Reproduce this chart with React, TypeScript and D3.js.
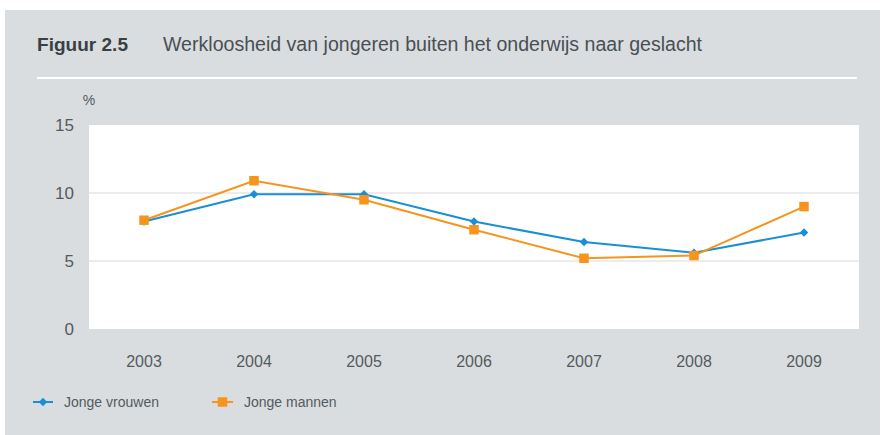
import React from 'react';
import * as d3 from 'd3';

const years = ['2003', '2004', '2005', '2006', '2007', '2008', '2009'];
const vrouwen = [7.9, 9.9, 9.9, 7.9, 6.4, 5.6, 7.1];
const mannen = [8.0, 10.9, 9.5, 7.3, 5.2, 5.4, 9.0];
const yTicks = [0, 5, 10, 15];
const seriesNames = ['Jonge vrouwen', 'Jonge mannen'];

const W = 885;
const H = 435;
const blue = '#1a8fd3';
const orange = '#f7941d';
const textColor = '#555a5e';
const font = '"Liberation Sans", sans-serif';

export default function App() {
  const x = d3.scaleBand<string>().domain(years).range([89, 859]);
  const y = d3.scaleLinear().domain([0, 15]).range([329, 125]);
  const cx = (i: number) => (x(years[i]) as number) + x.bandwidth() / 2;
  const line = d3
    .line<number>()
    .x((_, i) => cx(i))
    .y((d) => y(d));

  // diamond = square turned 45 degrees
  const diamond = d3.symbol().type(d3.symbolSquare).size(36)() as string;
  const square = d3.symbol().type(d3.symbolSquare).size(90)() as string;

  return (
    <svg
      width={W}
      height={H}
      style={{ position: 'absolute', left: 0, top: 0, background: '#fff' }}
      fontFamily={font}
    >
      <rect x={5} y={10} width={875} height={H - 10} fill="#d9dde0" />
      <text x={37} y={51} fontSize={19} fontWeight="bold" fill="#3a3f44" textLength={91} lengthAdjust="spacingAndGlyphs">
        Figuur 2.5
      </text>
      <text x={163} y={51} fontSize={19.5} fill="#4a4f54" textLength={539} lengthAdjust="spacingAndGlyphs">
        Werkloosheid van jongeren buiten het onderwijs naar geslacht
      </text>
      <line x1={37} x2={857} y1={78} y2={78} stroke="#fff" strokeWidth={2} />

      <text x={89} y={105} fontSize={14} fill={textColor} textAnchor="middle">
        %
      </text>

      <rect x={89} y={125} width={770} height={204} fill="#fff" />
      {yTicks
        .filter((t) => t > 0 && t < 15)
        .map((t) => (
          <line key={t} x1={89} x2={859} y1={y(t)} y2={y(t)} stroke="#d9d9d9" strokeWidth={1.2} />
        ))}
      {yTicks.map((t) => (
        <text key={t} x={74} y={y(t)} dy="0.35em" fontSize={17} textAnchor="end" fill={textColor}>
          {t}
        </text>
      ))}
      {years.map((yr, i) => (
        <text key={yr} x={cx(i)} y={367} fontSize={16} textAnchor="middle" fill={textColor}>
          {yr}
        </text>
      ))}

      <path d={line(vrouwen) as string} fill="none" stroke={blue} strokeWidth={2} />
      {vrouwen.map((v, i) => (
        <path key={i} d={diamond} transform={`translate(${cx(i)},${y(v)}) rotate(45)`} fill={blue} />
      ))}
      <path d={line(mannen) as string} fill="none" stroke={orange} strokeWidth={2} />
      {mannen.map((v, i) => (
        <path key={i} d={square} transform={`translate(${cx(i)},${y(v)})`} fill={orange} />
      ))}

      <g transform="translate(33,402)">
        <line x1={0} x2={20} y1={0} y2={0} stroke={blue} strokeWidth={2} />
        <path d={diamond} transform="translate(10,0) rotate(45)" fill={blue} />
        <text x={31} y={0} dy="0.35em" fontSize={14} fill={textColor}>
          {seriesNames[0]}
        </text>
      </g>
      <g transform="translate(212,402)">
        <line x1={0} x2={21} y1={0} y2={0} stroke={orange} strokeWidth={2} />
        <path d={square} transform="translate(10.5,0)" fill={orange} />
        <text x={32} y={0} dy="0.35em" fontSize={14} fill={textColor}>
          {seriesNames[1]}
        </text>
      </g>
    </svg>
  );
}
